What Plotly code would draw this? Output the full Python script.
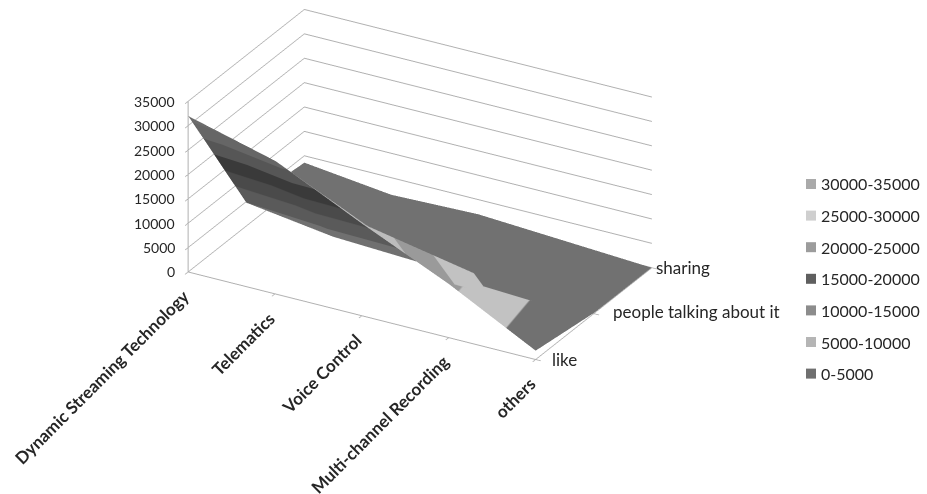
import plotly.graph_objects as go

categories = ["Dynamic Streaming Technology", "Telematics", "Voice Control", "Multi-channel Recording", "others"]
series = ["like", "people talking about it", "sharing"]
like = [32000, 27300, 18900, 11000, 1800]
people = [4800, 2300, 1500, 800, 100]
sharing = [3600, 1500, 2000, 1000, 0]
z_ticks = [0, 5000, 10000, 15000, 20000, 25000, 30000, 35000]
bands = ["0-5000", "5000-10000", "10000-15000", "15000-20000", "20000-25000", "25000-30000", "30000-35000"]
legend_colors = ["#6f6f6f", "#b5b5b5", "#8c8c8c", "#5f5f5f", "#9c9c9c", "#cfcfcf", "#aaaaaa"]
front_face = ["#717171", "#c2c2c2", "#9a9a9a", "#bcbcbc", "#969696", "#c8c8c8", "#a8a8a8"]
steep_face = ["#707070", "#5a5a5a", "#4a4a4a", "#3a3a3a", "#565656", "#666666", "#6c6c6c"]
series_xshift = [14, 17, 2]
series_yshift = [0, 2, 0]


def stepped(colors):
    n = len(colors)
    out = []
    for i, c in enumerate(colors):
        out.append([i / n, c])
        out.append([(i + 1) / n, c])
    return out


rows = [like, people, sharing]
nc, nr = len(categories), len(rows)
vx = [c for r in range(nr) for c in range(nc)]
vy = [r for r in range(nr) for c in range(nc)]
vz = [rows[r][c] for r in range(nr) for c in range(nc)]


def vid(r, c):
    return r * nc + c


steep_tris, other_tris = [], []
for r in range(nr - 1):
    for c in range(nc - 1):
        a, b, d, e = vid(r, c), vid(r, c + 1), vid(r + 1, c), vid(r + 1, c + 1)
        lower, upper = (a, b, e), (a, e, d)
        if r == 0 and c == 0:
            steep_tris += [lower, upper]
        elif r == 0 and c == 1:
            steep_tris.append(upper)
            other_tris.append(lower)
        else:
            other_tris += [lower, upper]

FONT = "Lato"
GRID = "#b0b0b0"
TEXT = "#262626"
flat = dict(ambient=1, diffuse=0, specular=0, roughness=1, fresnel=0)

fig = go.Figure()
for tris, pal in ((other_tris, front_face), (steep_tris, steep_face)):
    fig.add_trace(go.Mesh3d(x=vx, y=vy, z=vz,
                            i=[t[0] for t in tris], j=[t[1] for t in tris], k=[t[2] for t in tris],
                            intensity=vz, colorscale=stepped(pal), cmin=0, cmax=35000,
                            showscale=False, lighting=flat, hoverinfo="skip"))

scene_notes = []
for i, c in enumerate(categories):
    scene_notes.append(dict(x=i, y=0, z=0, text=f"<b>{c}</b>", showarrow=False, textangle=-45,
                            xanchor="right", yanchor="top", xshift=7, yshift=-11,
                            font=dict(family=FONT, size=17, color=TEXT)))
for i, s in enumerate(series):
    scene_notes.append(dict(x=4, y=i, z=0, text=s, showarrow=False, xanchor="left", yanchor="middle",
                            xshift=series_xshift[i], yshift=series_yshift[i],
                            font=dict(family=FONT, size=17, color=TEXT)))
for t in z_ticks:
    scene_notes.append(dict(x=0, y=0, z=t, text=str(t), showarrow=False, xanchor="right", yanchor="middle",
                            xshift=-11, font=dict(family=FONT, size=14, color=TEXT)))

axis_common = dict(showbackground=False, showspikes=False, zeroline=False, title="",
                   showline=True, linecolor=GRID, linewidth=2, ticks="outside", tickcolor=GRID,
                   ticklen=6, tickwidth=2, showticklabels=False)
scene = dict(
    domain=dict(x=[0, 840 / 927], y=[127 / 494, 492 / 494]),
    aspectmode="manual",
    aspectratio=dict(x=2.187, y=1.295, z=1.045),
    camera=dict(eye=dict(x=0.440, y=-0.779, z=0.446),
                center=dict(x=0, y=0, z=0), up=dict(x=0, y=0, z=1),
                projection=dict(type="orthographic")),
    xaxis=dict(range=[0, 4], tickvals=list(range(5)), showgrid=False, **axis_common),
    yaxis=dict(range=[0, 2], tickvals=[0, 1, 2], showgrid=False, **axis_common),
    zaxis=dict(range=[0, 35000], tickvals=z_ticks, showgrid=True, gridcolor=GRID, gridwidth=2, **axis_common),
    annotations=scene_notes,
)

shapes, notes = [], []
for i, (b, c) in enumerate(zip(bands[::-1], legend_colors[::-1])):
    py = 184 + i * 31.6
    shapes.append(dict(type="rect", xref="paper", yref="paper", x0=806 / 927, x1=816 / 927,
                       y0=1 - (py - 5) / 494, y1=1 - (py + 5) / 494, fillcolor=c, line_width=0))
    notes.append(dict(xref="paper", yref="paper", x=819 / 927, y=1 - py / 494, text=b, showarrow=False,
                      xanchor="left", yanchor="middle", font=dict(family=FONT, size=16, color=TEXT)))

fig.update_layout(width=927, height=494, margin=dict(l=0, r=0, t=0, b=0), paper_bgcolor="white",
                  showlegend=False, scene=scene, shapes=shapes, annotations=notes)
fig.write_html("out.html", config=dict(displayModeBar=False), post_script="document.body.style.margin='0';")
